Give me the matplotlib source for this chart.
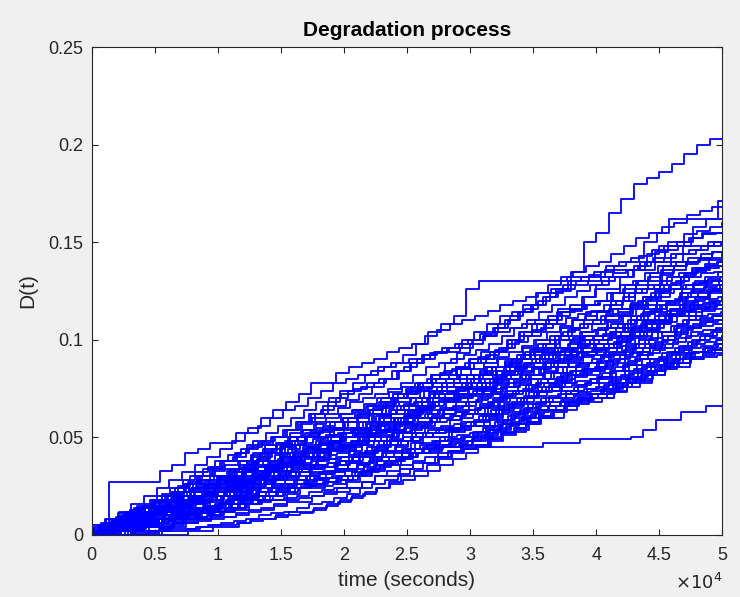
import matplotlib
matplotlib.use("Agg")
import matplotlib.pyplot as plt
import numpy as np
from matplotlib.ticker import FuncFormatter

# time grid in units of 1000 s, degradation levels in units of 1e-3
t_k = list(range(0, 51))

paths = [
    [0, 0, 3, 5, 8, 10, 13, 15, 18, 21, 24, 27, 30, 33, 35, 38, 41, 44, 47, 51,
     55, 58, 62, 65, 70, 74, 78, 82, 88, 93, 98, 102, 106, 110, 114, 118, 122, 125, 135, 150,
     155, 165, 172, 180, 183, 186, 190, 195, 200, 203, 203],
    [0, 3, 6, 9, 12, 15, 18, 22, 26, 28, 30, 33, 36, 40, 43, 47, 52, 58, 62, 68,
     74, 78, 82, 86, 88, 92, 98, 104, 108, 112, 126, 130, 130, 130, 130, 130, 130, 130, 132, 132,
     132, 136, 136, 136, 136, 145, 150, 150, 158, 162, 171],
    [0, 0, 27, 27, 27, 27, 33, 36, 42, 44, 47, 47, 52, 55, 60, 64, 68, 72, 78, 78,
     83, 86, 88, 90, 94, 96, 98, 102, 105, 108, 110, 112, 115, 118, 120, 122, 124, 126, 128, 130,
     133, 135, 138, 140, 143, 146, 148, 150, 152, 155, 155],
    [0, 4, 8, 11, 14, 17, 20, 25, 30, 34, 38, 41, 44, 48, 52, 56, 60, 64, 68, 70,
     72, 75, 78, 80, 84, 86, 90, 93, 96, 98, 100, 103, 106, 110, 114, 118, 122, 126, 130, 132,
     135, 138, 140, 142, 150, 155, 162, 162, 162, 162, 162],
    [0, 2, 5, 9, 13, 16, 20, 24, 28, 32, 35, 38, 40, 44, 47, 50, 54, 58, 62, 64,
     66, 69, 72, 76, 80, 84, 88, 90, 93, 94, 96, 100, 104, 108, 112, 118, 124, 128, 132, 135,
     138, 140, 144, 148, 152, 155, 158, 160, 164, 166, 168],
    [0, 0, 4, 8, 12, 15, 18, 22, 26, 30, 35, 38, 42, 45, 48, 50, 54, 57, 60, 62,
     65, 68, 70, 72, 75, 78, 82, 86, 88, 90, 92, 95, 98, 102, 106, 110, 114, 118, 122, 125,
     128, 130, 132, 136, 140, 142, 146, 148, 152, 154, 155],
    [0, 3, 6, 8, 11, 14, 17, 20, 24, 27, 30, 32, 35, 38, 42, 45, 48, 52, 55, 58,
     60, 63, 66, 70, 72, 75, 78, 82, 84, 86, 88, 90, 94, 98, 102, 105, 108, 112, 115, 118,
     120, 124, 128, 130, 134, 138, 140, 144, 146, 148, 150],
    [0, 2, 4, 7, 10, 12, 15, 19, 22, 25, 28, 30, 34, 37, 40, 44, 48, 50, 53, 56,
     58, 60, 62, 65, 68, 72, 76, 78, 80, 82, 85, 88, 92, 96, 100, 104, 108, 110, 114, 116,
     118, 120, 124, 128, 130, 134, 138, 140, 142, 144, 145],
    [0, 5, 8, 12, 15, 18, 21, 24, 27, 30, 33, 36, 38, 41, 44, 47, 50, 54, 57, 60,
     62, 64, 67, 70, 73, 76, 78, 80, 83, 85, 88, 91, 94, 96, 99, 102, 106, 108, 111, 113,
     115, 118, 120, 124, 126, 128, 132, 134, 137, 139, 140],
    [0, 0, 3, 6, 9, 12, 14, 17, 20, 23, 26, 29, 32, 36, 39, 42, 45, 48, 51, 53,
     55, 58, 61, 64, 67, 70, 73, 76, 78, 80, 82, 85, 88, 91, 94, 97, 100, 104, 107, 110,
     112, 115, 118, 122, 126, 130, 133, 136, 139, 141, 142],
    [0, 2, 5, 7, 10, 12, 15, 18, 20, 22, 25, 28, 30, 33, 36, 39, 42, 45, 48, 50,
     52, 55, 58, 61, 64, 67, 70, 73, 76, 78, 80, 83, 86, 89, 92, 95, 98, 102, 105, 108,
     110, 113, 116, 119, 122, 125, 128, 132, 135, 137, 138],
    [0, 0, 0, 8, 12, 12, 18, 22, 26, 28, 30, 30, 34, 38, 42, 42, 46, 50, 52, 54,
     55, 58, 58, 62, 66, 68, 70, 74, 76, 76, 78, 82, 86, 86, 90, 94, 98, 102, 104, 106,
     108, 112, 116, 116, 120, 124, 128, 130, 132, 134, 135],
    [0, 2, 2, 6, 8, 11, 14, 16, 19, 20, 22, 26, 30, 30, 34, 37, 40, 44, 46, 48,
     50, 54, 57, 60, 60, 64, 68, 72, 74, 76, 78, 80, 84, 87, 90, 94, 96, 100, 102, 104,
     105, 110, 114, 118, 118, 122, 126, 128, 130, 131, 132],
    [0, 0, 4, 7, 10, 10, 14, 18, 20, 22, 24, 27, 29, 32, 35, 38, 40, 42, 45, 46,
     48, 52, 55, 58, 62, 64, 66, 70, 72, 73, 75, 78, 80, 84, 88, 90, 94, 96, 100, 101,
     102, 106, 108, 112, 116, 120, 124, 126, 128, 129, 130],
    [0, 3, 5, 5, 9, 11, 13, 15, 17, 18, 20, 23, 26, 29, 32, 35, 37, 40, 42, 44,
     45, 48, 52, 56, 58, 60, 64, 66, 69, 70, 72, 76, 78, 82, 85, 88, 92, 94, 96, 98,
     100, 103, 106, 110, 113, 116, 120, 122, 125, 127, 128],
    [0, 6, 9, 12, 14, 17, 20, 22, 24, 26, 28, 30, 32, 35, 37, 40, 42, 44, 46, 48,
     50, 52, 55, 58, 60, 62, 65, 68, 70, 71, 72, 75, 78, 80, 83, 86, 89, 92, 94, 96,
     98, 101, 104, 107, 110, 113, 116, 119, 122, 124, 125],
    [0, 0, 0, 0, 5, 8, 10, 12, 15, 16, 18, 20, 24, 28, 31, 34, 37, 40, 42, 43,
     44, 46, 50, 54, 58, 60, 62, 65, 68, 69, 70, 74, 78, 80, 84, 88, 90, 93, 95, 96,
     98, 100, 104, 108, 112, 115, 118, 121, 124, 125, 126],
    [0, 3, 6, 8, 10, 13, 15, 17, 19, 20, 22, 25, 28, 30, 33, 36, 38, 40, 43, 45,
     46, 48, 50, 53, 56, 58, 60, 62, 65, 66, 68, 70, 73, 76, 79, 82, 86, 89, 92, 94,
     95, 98, 102, 105, 108, 112, 115, 118, 120, 121, 122],
    [0, 0, 3, 5, 8, 10, 12, 14, 16, 18, 20, 22, 25, 27, 30, 33, 35, 37, 40, 41,
     42, 45, 48, 52, 55, 58, 60, 62, 64, 65, 66, 69, 72, 76, 80, 82, 85, 88, 91, 93,
     94, 96, 99, 102, 106, 109, 112, 115, 118, 119, 120],
    [0, 5, 8, 11, 13, 15, 18, 20, 22, 24, 25, 28, 30, 33, 36, 38, 40, 43, 45, 47,
     48, 50, 53, 56, 58, 60, 63, 66, 68, 69, 70, 72, 74, 77, 80, 82, 85, 88, 90, 91,
     92, 95, 98, 101, 104, 108, 110, 113, 116, 117, 118],
    [0, 0, 2, 4, 6, 8, 10, 12, 14, 15, 16, 19, 22, 25, 28, 31, 34, 36, 38, 39,
     40, 42, 45, 48, 52, 55, 58, 60, 62, 63, 64, 67, 70, 74, 77, 80, 83, 86, 89, 91,
     92, 96, 99, 102, 105, 108, 112, 115, 118, 119, 120],
    [0, 2, 4, 6, 8, 10, 12, 14, 16, 17, 18, 20, 23, 26, 28, 30, 33, 35, 38, 39,
     40, 43, 46, 48, 50, 53, 56, 58, 60, 61, 62, 65, 68, 71, 74, 77, 80, 83, 86, 87,
     88, 91, 94, 98, 102, 106, 109, 112, 114, 115, 116],
    [0, 4, 6, 9, 12, 14, 16, 18, 20, 21, 22, 24, 27, 30, 33, 35, 37, 40, 42, 43,
     44, 46, 48, 51, 54, 56, 58, 60, 62, 63, 64, 66, 69, 72, 74, 76, 78, 81, 84, 85,
     86, 89, 92, 96, 100, 104, 107, 110, 112, 113, 114],
    [0, 0, 0, 2, 4, 6, 8, 10, 12, 14, 15, 17, 20, 23, 26, 28, 30, 32, 34, 35,
     36, 38, 42, 45, 48, 52, 54, 56, 58, 59, 60, 62, 65, 68, 72, 75, 78, 80, 83, 84,
     85, 88, 92, 95, 98, 101, 104, 107, 110, 111, 112],
    [0, 3, 5, 8, 10, 12, 14, 16, 18, 19, 20, 22, 24, 26, 28, 30, 32, 34, 36, 37,
     38, 40, 42, 45, 48, 50, 52, 54, 56, 57, 58, 61, 64, 67, 70, 73, 76, 79, 82, 83,
     84, 87, 90, 93, 96, 99, 102, 105, 108, 109, 110],
    [0, 0, 2, 4, 6, 7, 8, 10, 12, 13, 14, 16, 18, 21, 24, 26, 28, 30, 32, 33,
     34, 37, 40, 43, 46, 48, 50, 52, 54, 55, 56, 59, 62, 65, 68, 71, 74, 77, 80, 81,
     82, 85, 88, 91, 94, 97, 100, 103, 106, 107, 108],
    [0, 2, 5, 7, 9, 11, 13, 15, 17, 17, 18, 20, 22, 24, 26, 28, 30, 32, 34, 35,
     36, 38, 40, 43, 46, 48, 50, 52, 54, 55, 56, 58, 61, 64, 67, 70, 73, 76, 78, 79,
     80, 83, 86, 89, 92, 95, 98, 101, 104, 105, 106],
    [0, 0, 0, 0, 3, 5, 6, 8, 10, 11, 12, 14, 16, 19, 22, 24, 26, 28, 30, 31,
     32, 34, 37, 40, 43, 46, 48, 50, 52, 53, 54, 56, 59, 62, 65, 68, 71, 74, 76, 77,
     78, 81, 84, 87, 90, 93, 96, 99, 102, 103, 104],
    [0, 2, 4, 6, 8, 10, 12, 13, 14, 15, 16, 18, 20, 22, 24, 26, 28, 30, 32, 33,
     34, 36, 38, 40, 42, 44, 46, 48, 50, 51, 52, 55, 58, 61, 64, 67, 70, 72, 74, 75,
     76, 79, 82, 85, 88, 91, 94, 97, 100, 101, 102],
    [0, 0, 2, 3, 5, 6, 8, 9, 10, 11, 12, 14, 16, 18, 20, 22, 24, 26, 28, 29,
     30, 32, 35, 38, 40, 42, 44, 46, 48, 49, 50, 53, 56, 59, 62, 65, 68, 70, 72, 73,
     74, 77, 80, 83, 86, 89, 92, 95, 98, 99, 100],
    [0, 0, 0, 0, 0, 0, 3, 5, 7, 8, 10, 12, 14, 16, 18, 20, 22, 24, 26, 27,
     28, 30, 33, 36, 38, 40, 42, 44, 46, 47, 48, 51, 54, 57, 60, 63, 66, 68, 70, 71,
     72, 75, 78, 81, 84, 87, 90, 93, 96, 97, 98],
    [0, 3, 5, 7, 8, 9, 10, 11, 12, 13, 14, 16, 18, 20, 22, 24, 26, 27, 28, 29,
     30, 32, 34, 36, 38, 40, 42, 44, 46, 47, 48, 50, 53, 56, 59, 62, 64, 66, 68, 69,
     70, 73, 76, 79, 82, 85, 88, 91, 94, 95, 96],
    [0, 0, 0, 0, 2, 4, 6, 7, 8, 9, 10, 12, 14, 16, 18, 20, 22, 24, 25, 25,
     26, 28, 31, 34, 37, 40, 42, 44, 45, 45, 46, 49, 52, 55, 58, 61, 64, 66, 68, 69,
     70, 72, 75, 78, 81, 84, 87, 90, 93, 94, 95],
    [0, 0, 2, 4, 5, 6, 8, 9, 10, 11, 12, 14, 16, 18, 20, 22, 24, 25, 26, 27,
     28, 30, 32, 35, 38, 40, 42, 43, 45, 45, 45, 45, 45, 45, 45, 45, 47, 47, 47, 49,
     49, 49, 49, 50, 54, 59, 59, 63, 63, 66, 66],
    [0, 0, 0, 0, 0, 2, 3, 4, 6, 7, 8, 9, 10, 12, 14, 16, 18, 19, 20, 21,
     22, 24, 27, 30, 33, 36, 38, 40, 42, 43, 44, 46, 49, 52, 55, 58, 61, 64, 66, 67,
     68, 70, 73, 76, 79, 82, 85, 88, 91, 92, 93],
    [0, 0, 1, 2, 3, 4, 5, 6, 8, 9, 10, 12, 14, 16, 17, 18, 19, 20, 22, 23,
     24, 27, 30, 33, 36, 39, 42, 45, 48, 49, 50, 53, 56, 59, 62, 65, 68, 71, 74, 76,
     78, 81, 84, 88, 92, 96, 100, 104, 107, 109, 110],
    [0, 2, 4, 5, 7, 8, 10, 11, 13, 14, 15, 18, 21, 24, 27, 30, 32, 34, 36, 37,
     38, 40, 43, 46, 49, 52, 55, 58, 60, 61, 62, 65, 68, 71, 74, 77, 80, 83, 86, 88,
     90, 94, 99, 104, 109, 114, 119, 124, 129, 132, 135],
    [0, 2, 4, 6, 8, 10, 12, 14, 16, 18, 20, 23, 26, 29, 32, 35, 38, 40, 42, 44,
     45, 48, 51, 54, 57, 60, 63, 66, 69, 72, 75, 78, 81, 84, 87, 90, 93, 96, 99, 102,
     105, 109, 113, 117, 121, 125, 129, 133, 137, 141, 145],
    [0, 4, 7, 10, 12, 14, 17, 20, 22, 24, 26, 29, 32, 35, 38, 41, 44, 47, 49, 51,
     52, 55, 58, 61, 64, 66, 68, 70, 72, 74, 76, 78, 80, 83, 86, 88, 90, 92, 95, 97,
     100, 102, 104, 106, 108, 110, 112, 114, 116, 117, 118],
    [0, 0, 2, 4, 5, 7, 8, 9, 10, 11, 12, 14, 16, 18, 20, 22, 24, 26, 28, 29,
     30, 33, 36, 39, 42, 45, 48, 50, 52, 54, 55, 58, 61, 64, 67, 70, 73, 76, 79, 82,
     85, 89, 93, 97, 101, 105, 109, 113, 117, 121, 125],
    [0, 0, 0, 6, 6, 10, 14, 14, 20, 24, 28, 28, 33, 38, 38, 42, 46, 50, 50, 55,
     60, 60, 64, 68, 72, 72, 78, 82, 82, 86, 90, 94, 94, 100, 104, 108, 108, 114, 118, 122,
     126, 126, 132, 136, 140, 140, 144, 148, 148, 150, 150],
    [0, 0, 0, 0, 0, 4, 4, 6, 8, 8, 10, 13, 13, 16, 18, 18, 21, 24, 24, 27,
     30, 30, 33, 36, 36, 39, 42, 42, 45, 48, 50, 50, 54, 57, 57, 60, 64, 64, 68, 70,
     72, 72, 76, 80, 80, 84, 88, 90, 94, 96, 100],
    [0, 3, 3, 7, 10, 10, 14, 17, 17, 20, 23, 23, 27, 30, 30, 34, 37, 40, 40, 44,
     47, 47, 51, 54, 54, 58, 61, 64, 64, 68, 72, 72, 76, 80, 80, 84, 88, 88, 92, 96,
     100, 100, 104, 108, 110, 114, 118, 118, 122, 124, 125],
    [0, 0, 5, 5, 9, 12, 12, 16, 20, 20, 24, 27, 27, 31, 35, 35, 39, 42, 46, 46,
     50, 54, 54, 58, 62, 62, 66, 70, 70, 74, 78, 82, 82, 86, 90, 90, 95, 100, 100, 104,
     108, 112, 112, 118, 122, 126, 126, 132, 136, 138, 140],
    [0, 0, 0, 3, 3, 5, 8, 8, 11, 13, 13, 16, 19, 19, 22, 25, 25, 28, 31, 31,
     34, 37, 37, 40, 43, 43, 47, 50, 50, 54, 58, 58, 62, 66, 66, 70, 74, 74, 78, 82,
     84, 86, 90, 94, 94, 98, 102, 106, 106, 110, 112],
    [0, 4, 4, 8, 11, 11, 15, 18, 22, 22, 26, 29, 29, 33, 36, 36, 40, 43, 43, 47,
     50, 50, 54, 57, 57, 61, 64, 68, 68, 72, 75, 75, 79, 82, 86, 86, 90, 94, 94, 98,
     102, 106, 106, 110, 116, 120, 120, 126, 128, 130, 132],
    [0, 0, 2, 2, 5, 8, 8, 11, 14, 14, 17, 20, 20, 23, 26, 29, 29, 32, 35, 35,
     38, 41, 41, 44, 48, 48, 52, 55, 55, 59, 62, 62, 66, 70, 70, 74, 78, 78, 82, 86,
     88, 92, 92, 96, 100, 104, 104, 108, 112, 116, 118],
    [0, 2, 6, 6, 10, 14, 14, 18, 22, 22, 26, 30, 30, 34, 38, 38, 42, 46, 46, 50,
     54, 54, 58, 62, 62, 66, 70, 70, 74, 78, 82, 82, 86, 90, 90, 96, 100, 100, 106, 110,
     114, 114, 120, 124, 128, 128, 134, 138, 140, 142, 145],
    [0, 0, 0, 2, 4, 4, 7, 9, 9, 12, 14, 14, 17, 20, 20, 23, 26, 26, 29, 32,
     34, 34, 37, 40, 40, 44, 47, 47, 50, 53, 56, 56, 60, 63, 63, 67, 70, 70, 74, 77,
     80, 80, 84, 87, 90, 90, 94, 97, 100, 102, 105],
    [0, 5, 5, 10, 14, 14, 18, 22, 26, 26, 30, 34, 34, 38, 42, 46, 46, 50, 54, 54,
     58, 62, 62, 66, 70, 70, 75, 80, 80, 85, 90, 90, 95, 100, 104, 104, 110, 116, 116, 122,
     128, 132, 132, 138, 144, 148, 148, 154, 156, 158, 160],
    [0, 0, 0, 0, 2, 2, 4, 6, 6, 8, 9, 9, 11, 13, 13, 15, 17, 17, 20, 22,
     24, 24, 27, 30, 30, 34, 37, 37, 40, 43, 46, 46, 50, 53, 53, 57, 60, 60, 64, 68,
     70, 70, 74, 78, 78, 82, 86, 86, 90, 93, 95],
    [0, 3, 6, 6, 9, 12, 12, 15, 18, 18, 22, 25, 25, 28, 32, 32, 36, 39, 39, 43,
     46, 46, 50, 53, 53, 57, 60, 60, 64, 68, 71, 71, 75, 78, 78, 82, 86, 86, 90, 94,
     98, 98, 102, 106, 110, 110, 116, 120, 122, 126, 128],
    [0, 4, 8, 12, 16, 20, 24, 28, 32, 36, 40, 44, 48, 52, 56, 60, 64, 66, 70, 74,
     78, 80, 82, 84, 86, 88, 90, 92, 94, 96, 98, 100, 102, 104, 106, 108, 110, 112, 114, 116,
     118, 120, 124, 126, 130, 132, 136, 138, 140, 142, 145],
    [0, 6, 6, 10, 14, 18, 18, 22, 26, 30, 34, 34, 38, 42, 46, 46, 50, 54, 58, 58,
     62, 64, 66, 68, 70, 72, 74, 76, 78, 80, 82, 84, 86, 88, 90, 92, 94, 96, 98, 100,
     102, 106, 108, 112, 114, 118, 120, 124, 126, 128, 130],
    [0, 2, 6, 10, 14, 14, 18, 22, 26, 30, 34, 38, 42, 46, 46, 50, 54, 58, 62, 66,
     70, 74, 76, 78, 80, 84, 88, 92, 94, 96, 100, 104, 108, 112, 114, 116, 120, 124, 126, 128,
     130, 132, 134, 136, 138, 140, 142, 144, 146, 148, 150],
    [0, 0, 0, 0, 0, 0, 0, 0, 2, 2, 4, 4, 6, 8, 8, 10, 12, 12, 14, 16,
     18, 20, 22, 24, 26, 28, 30, 33, 36, 39, 42, 45, 48, 51, 54, 57, 60, 63, 66, 69,
     72, 75, 78, 80, 83, 86, 89, 92, 94, 96, 98],
    [0, 0, 0, 0, 1, 1, 2, 3, 3, 4, 5, 6, 7, 8, 10, 11, 12, 14, 16, 17,
     19, 21, 24, 26, 28, 31, 34, 37, 40, 43, 46, 48, 51, 54, 57, 60, 63, 66, 69, 72,
     75, 78, 81, 84, 87, 90, 93, 96, 99, 102, 105],
    [0, 0, 0, 0, 0, 0, 2, 2, 3, 4, 5, 5, 6, 7, 8, 9, 10, 11, 13, 15,
     17, 19, 21, 24, 27, 30, 33, 36, 39, 42, 44, 46, 49, 52, 55, 58, 61, 64, 67, 70,
     72, 74, 77, 80, 82, 84, 86, 88, 90, 91, 92],
    [0, 0, 8, 8, 8, 12, 12, 15, 18, 18, 22, 22, 26, 29, 29, 33, 36, 36, 40, 43,
     43, 47, 50, 50, 54, 57, 57, 61, 64, 64, 68, 72, 72, 76, 80, 80, 84, 88, 88, 92,
     96, 96, 100, 104, 104, 108, 112, 112, 116, 120, 122],
    [0, 2, 4, 6, 8, 10, 12, 12, 16, 20, 20, 24, 26, 30, 32, 32, 36, 40, 42, 44,
     48, 50, 52, 56, 58, 60, 64, 66, 70, 72, 76, 80, 82, 86, 88, 92, 96, 98, 102, 106,
     110, 114, 116, 120, 124, 126, 130, 132, 134, 136, 138],
]

# per-path shift of the jump instants (seconds)
jump_shift = [
    0, 300, 600, 200, 800, 500, 100, 700, 400, 900,
    250, 650, 150, 850, 450, 50, 750, 350, 550, 950,
    200, 600, 100, 800, 300, 700, 500, 900, 0, 400,
    650, 150, 850, 250, 550, 750, 350, 50, 450, 950,
    100, 500, 900, 300, 700, 200, 600, 800, 400, 0,
    550, 150, 850, 250, 650, 350, 750, 450, 50, 950,
]

x_ticks = [0, 0.5, 1, 1.5, 2, 2.5, 3, 3.5, 4, 4.5, 5]
y_ticks = [0, 0.05, 0.1, 0.15, 0.2, 0.25]

plt.rcParams["font.family"] = ["Liberation Sans", "DejaVu Sans"]
axis_col = "#262626"

fig = plt.figure(figsize=(7.4, 5.97), dpi=100, facecolor="#f0f0f0")
ax = fig.add_axes([0.124, 0.104, 0.852, 0.817])
ax.set_facecolor("white")

for i, p in enumerate(paths):
    tt = np.array(t_k) * 1000.0 - jump_shift[i % len(jump_shift)]
    tt[0] = 0.0
    tt = np.append(tt, 50000.0)
    yy = np.append(np.array(p), p[-1]) / 1000.0
    ax.step(tt, yy, where="post", color="#0000ff", lw=1.3)

ax.set_xlim(0, 50000)
ax.set_ylim(0, 0.25)
ax.set_xticks([v * 1e4 for v in x_ticks])
ax.xaxis.set_major_formatter(FuncFormatter(lambda v, pos: f"{v / 1e4:g}"))
ax.set_yticks(y_ticks)
ax.yaxis.set_major_formatter(FuncFormatter(lambda v, pos: f"{v:g}"))

ax.tick_params(direction="in", top=True, right=True, length=4, width=0.8,
               colors=axis_col, labelsize=13)
ax.tick_params(axis="x", pad=9)
ax.tick_params(axis="y", pad=6)
for s in ax.spines.values():
    s.set_color(axis_col)
    s.set_linewidth(0.8)

ax.set_title("Degradation process", fontsize=15, fontweight="bold", pad=8)
ax.set_xlabel("time (seconds)", fontsize=15, color=axis_col, labelpad=5)
ax.set_ylabel("D(t)", fontsize=15, color=axis_col, labelpad=8)
fig.text(0.976, 0.006, r"$\times10^{4}$", ha="right", va="bottom",
         fontsize=13, color=axis_col)

fig.savefig("out.png", dpi=100, facecolor=fig.get_facecolor())
